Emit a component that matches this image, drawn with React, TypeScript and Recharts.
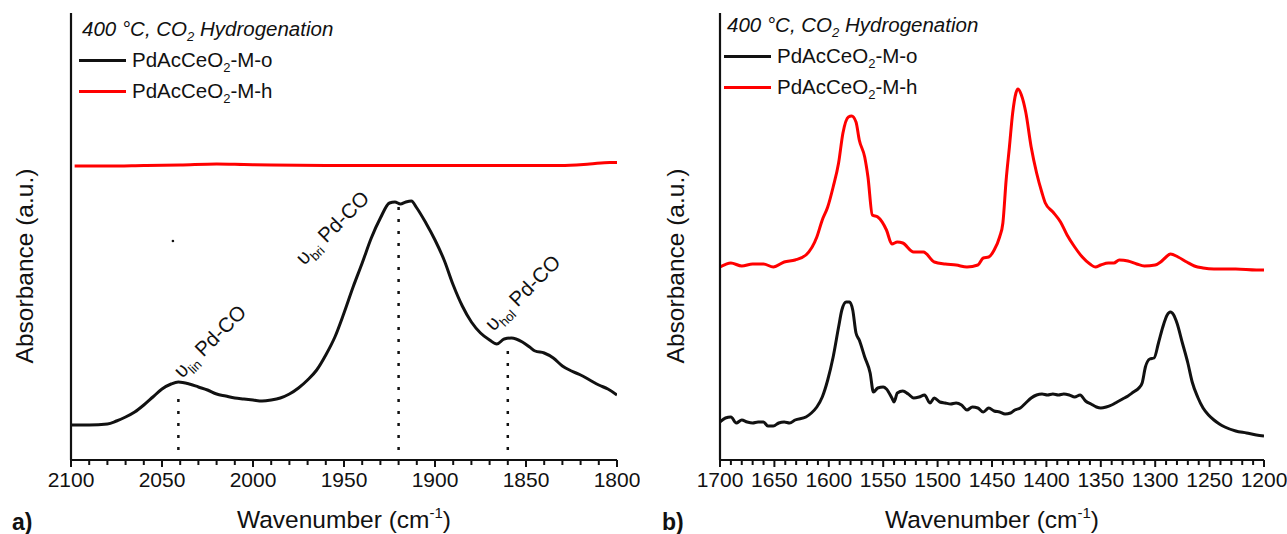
import React from "react";
import {
  LineChart,
  Line,
  XAxis,
  YAxis,
  ReferenceLine,
  ReferenceDot,
  Legend,
} from "recharts";

const FONT = '"Liberation Sans", Arial, Helvetica, sans-serif';
const INK = "#111111";
const RED = "#ff0000";

// a) Pd carbonyl region, 2100-1800 cm-1
const carbonylTicks = [2100, 2050, 2000, 1950, 1900, 1850, 1800];
const carbonylWn = [
  2100, 2090, 2080, 2075, 2070, 2065, 2060, 2055, 2050, 2045, 2041, 2035, 2030,
  2025, 2020, 2015, 2010, 2005, 2000, 1995, 1990, 1985, 1980, 1975, 1970, 1965,
  1960, 1955, 1950, 1945, 1940, 1935, 1930, 1925, 1922, 1919, 1916, 1913, 1910,
  1905, 1900, 1895, 1890, 1885, 1880, 1875, 1870, 1866, 1862, 1858, 1852, 1848,
  1845, 1840, 1835, 1830, 1825, 1820, 1815, 1810, 1805, 1800,
];
const carbonylOxidized = [
  0.035, 0.035, 0.036, 0.039, 0.043, 0.048, 0.055, 0.063, 0.071, 0.076, 0.078,
  0.076, 0.073, 0.07, 0.066, 0.064, 0.062, 0.061, 0.06, 0.059, 0.06, 0.062,
  0.066, 0.072, 0.08, 0.09, 0.105, 0.123, 0.147, 0.173, 0.197, 0.222, 0.242,
  0.257, 0.258, 0.256, 0.258, 0.259, 0.252, 0.237, 0.22, 0.2, 0.175, 0.154,
  0.138, 0.127, 0.12, 0.116, 0.121, 0.122, 0.118, 0.113, 0.109, 0.107, 0.102,
  0.094, 0.089, 0.085, 0.08, 0.075, 0.071, 0.065,
];
const carbonylReducedWn = [
  2098, 2080, 2060, 2040, 2020, 2005, 1990, 1960, 1930, 1900, 1870, 1850, 1831,
  1815, 1804, 1800,
];
const carbonylReduced = [
  0.294, 0.294, 0.2945, 0.295, 0.296, 0.2955, 0.295, 0.2945, 0.2945, 0.2945,
  0.2945, 0.2945, 0.2945, 0.296, 0.2975, 0.2975,
];

// assigned Pd-CO bands: linear, bridged, hollow
const bandModes = ["lin", "bri", "hol"];
const bandWn = [2041, 1920, 1860];
const bandTop = [0.067, 0.253, 0.113];
const bandLabelWn = [2039, 1972, 1868];
const bandLabelAbs = [0.081, 0.194, 0.128];

// b) carbonate / formate region, 1700-1200 cm-1
const carbonateTicks = [
  1700, 1650, 1600, 1550, 1500, 1450, 1400, 1350, 1300, 1250, 1200,
];
const carbonateWn = [
  1700, 1695, 1690, 1685, 1680, 1675, 1670, 1665, 1660, 1656, 1651, 1646, 1641,
  1636, 1631, 1621, 1616, 1611, 1606, 1601, 1596, 1591, 1588, 1584, 1581, 1578,
  1575, 1572, 1567, 1562, 1559, 1555, 1550, 1547, 1542, 1540, 1537, 1532, 1527,
  1522, 1517, 1512, 1507, 1503, 1498, 1493, 1488, 1483, 1478, 1473, 1468, 1463,
  1458, 1453, 1448, 1443, 1438, 1433, 1429, 1424, 1419, 1414, 1409, 1404, 1399,
  1394, 1389, 1384, 1379, 1374, 1369, 1364, 1359, 1354, 1350, 1345, 1340, 1335,
  1330, 1325, 1320, 1315, 1312, 1309, 1305, 1301, 1297, 1293, 1289, 1286, 1283,
  1280, 1275, 1270, 1266, 1261, 1256, 1251, 1246, 1241, 1236, 1226, 1216, 1207,
  1200,
];
const carbonateOxidized = [
  0.038, 0.042, 0.043, 0.037, 0.04, 0.038, 0.037, 0.038, 0.038, 0.034, 0.034,
  0.037, 0.038, 0.037, 0.04, 0.043, 0.047, 0.053, 0.063, 0.08, 0.103, 0.133,
  0.15, 0.158, 0.158, 0.15, 0.127, 0.12, 0.103, 0.087, 0.068, 0.072, 0.073,
  0.071, 0.062, 0.058, 0.067, 0.069, 0.066, 0.062, 0.063, 0.065, 0.057, 0.062,
  0.058, 0.057, 0.056, 0.057, 0.055, 0.05, 0.053, 0.052, 0.048, 0.052, 0.049,
  0.048, 0.046, 0.047, 0.05, 0.052, 0.057, 0.062, 0.065, 0.066, 0.065, 0.066,
  0.065, 0.066, 0.065, 0.063, 0.065, 0.059, 0.056, 0.053, 0.052, 0.053, 0.055,
  0.058, 0.061, 0.064, 0.068, 0.072, 0.077, 0.093, 0.101, 0.102, 0.117, 0.133,
  0.145, 0.148, 0.145, 0.137, 0.117, 0.097, 0.078, 0.063, 0.052, 0.045, 0.04,
  0.036, 0.033, 0.029, 0.027, 0.025, 0.024,
];
const carbonateReducedWn = [
  1700, 1690, 1680, 1670, 1660, 1651, 1641, 1631, 1621, 1611, 1606, 1601, 1596,
  1591, 1587, 1582, 1579, 1575, 1572, 1567, 1564, 1560, 1555, 1547, 1542, 1537,
  1532, 1522, 1513, 1503, 1493, 1483, 1473, 1463, 1458, 1453, 1448, 1443, 1440,
  1437, 1434, 1431, 1428, 1426, 1423, 1419, 1414, 1409, 1404, 1401, 1394, 1387,
  1381, 1374, 1367, 1360, 1355, 1350, 1343, 1338, 1333, 1325, 1317, 1310, 1300,
  1295, 1290, 1286, 1279, 1271, 1264, 1256, 1246, 1226, 1207, 1200,
];
const carbonateReduced = [
  0.193, 0.197, 0.194, 0.196, 0.196, 0.193, 0.198, 0.2, 0.205, 0.223, 0.24,
  0.253, 0.273, 0.297, 0.327, 0.343, 0.344, 0.338, 0.32, 0.303, 0.283, 0.245,
  0.243, 0.23, 0.216, 0.218, 0.217, 0.208, 0.208, 0.198, 0.196, 0.195, 0.193,
  0.195, 0.202, 0.203, 0.21, 0.223, 0.237, 0.28, 0.313, 0.347, 0.367, 0.371,
  0.365, 0.348, 0.313, 0.287, 0.267, 0.257, 0.248, 0.238, 0.225, 0.213, 0.203,
  0.196, 0.193, 0.195, 0.197, 0.197, 0.2, 0.199, 0.196, 0.194, 0.195, 0.198,
  0.203, 0.206, 0.203, 0.198, 0.194, 0.192, 0.191, 0.191, 0.19, 0.19,
];

const ABS_MAX = 0.447;

type Series = {
  key: string;
  suffix: string;
  color: string;
  wn: number[];
  abs: number[];
};

const toPoints = (wn: number[], abs: number[]) =>
  wn.map((w, i) => ({ wn: w, abs: abs[i] }));

// four minor ticks between each pair of labelled ticks
const withMinor = (majors: number[]) =>
  majors.flatMap((m, i) =>
    i === 0
      ? [m]
      : [1, 2, 3, 4, 5].map((k) => majors[i - 1] + ((m - majors[i - 1]) * k) / 5)
  );

const renderTick = (majors: number[]) => (props: any) => {
  const { x, y, payload } = props;
  const major = majors.includes(payload.value);
  return (
    <g>
      <line x1={x} x2={x} y1={y} y2={y + (major ? 7 : 5)} stroke={INK} strokeWidth={2} />
      {major && (
        <text x={x} y={y + 27} textAnchor="middle" fontFamily={FONT} fontSize={21} fill={INK}>
          {payload.value}
        </text>
      )}
    </g>
  );
};

const subStyle: React.CSSProperties = {
  fontSize: 13,
  verticalAlign: "-5px",
  lineHeight: 0,
};

const renderKey = (series: Series[]) => () => (
  <div
    style={{
      position: "relative",
      width: 320,
      height: 100,
      fontFamily: FONT,
      fontSize: 20.5,
      lineHeight: "20px",
      color: INK,
      whiteSpace: "nowrap",
    }}
  >
    <div style={{ position: "absolute", left: 3, top: 0, fontStyle: "italic" }}>
      400 °C, CO<sub style={subStyle}>2</sub> Hydrogenation
    </div>
    {series.map((s, i) => (
      <div
        key={s.key}
        style={{
          position: "absolute",
          left: 0,
          top: 31 * (i + 1),
          display: "flex",
          alignItems: "center",
        }}
      >
        <span
          style={{
            display: "inline-block",
            width: 47,
            height: 3,
            background: s.color,
            marginRight: 6,
          }}
        />
        <span>
          PdAcCeO<sub style={subStyle}>2</sub>
          {s.suffix}
        </span>
      </div>
    ))}
  </div>
);

type PanelProps = {
  offset: number;
  width: number;
  plotLeft: number;
  plotRight: number;
  domain: [number, number];
  majors: number[];
  series: Series[];
  letter: string;
  letterX: number;
  yTitleX: number;
  keyLeft: number;
  keyTop: number;
  bands?: boolean;
};

function Panel({
  offset,
  width,
  plotLeft,
  plotRight,
  domain,
  majors,
  series,
  letter,
  letterX,
  yTitleX,
  keyLeft,
  keyTop,
  bands,
}: PanelProps) {
  const left = plotLeft - offset;
  const right = offset + width - plotRight;
  const cx = left + (plotRight - plotLeft) / 2;

  // axis titles and the panel letter
  const titles = () => (
    <g fontFamily={FONT} fill={INK}>
      <text x={letterX - offset} y={530} fontSize={23} fontWeight="bold">
        {letter}
      </text>
      <text x={cx} y={528} fontSize={24.5} textAnchor="middle">
        Wavenumber (cm
        <tspan fontSize={15} dy={-10}>
          -1
        </tspan>
        <tspan dy={10}>)</tspan>
      </text>
      <text
        transform={`translate(${yTitleX - offset},266) rotate(-90)`}
        textAnchor="middle"
        fontSize={24.5}
      >
        Absorbance (a.u.)
      </text>
    </g>
  );

  return (
    <div style={{ position: "absolute", left: offset, top: 0 }}>
      <LineChart
        width={width}
        height={534}
        margin={{ top: 13, right, bottom: 0, left: left - 1 }}
      >
        <XAxis
          dataKey="wn"
          type="number"
          domain={domain}
          reversed
          allowDataOverflow
          ticks={withMinor(majors)}
          interval={0}
          tick={renderTick(majors)}
          tickLine={false}
          tickSize={0}
          tickMargin={0}
          height={74}
          axisLine={{ stroke: INK, strokeWidth: 2.2 }}
          label={titles}
        />
        <YAxis
          type="number"
          domain={[0, ABS_MAX]}
          width={1}
          tick={false}
          tickLine={false}
          axisLine={{ stroke: INK, strokeWidth: 2.2 }}
        />
        <Legend
          layout="vertical"
          verticalAlign="middle"
          align="center"
          content={renderKey(series)}
          wrapperStyle={{
            left: keyLeft - offset,
            top: keyTop,
            width: "auto",
            height: "auto",
          }}
        />

        {bands &&
          bandWn.map((w, i) => (
            <ReferenceLine
              key={`band-${bandModes[i]}`}
              segment={[
                { x: w, y: 0.01 },
                { x: w, y: bandTop[i] },
              ]}
              stroke={INK}
              strokeWidth={2.5}
              strokeDasharray="3 9"
            />
          ))}
        {bands &&
          bandModes.map((mode, i) => (
            <ReferenceDot
              key={`label-${mode}`}
              x={bandLabelWn[i]}
              y={bandLabelAbs[i]}
              r={0}
              shape={(p: any) => (
                <text
                  x={p.cx}
                  y={p.cy}
                  transform={`rotate(-45 ${p.cx} ${p.cy})`}
                  fontFamily={FONT}
                  fontSize={20.5}
                  fill={INK}
                >
                  υ
                  <tspan fontSize={13} dy={5}>
                    {mode}
                  </tspan>
                  <tspan dy={-5}> Pd-CO</tspan>
                </text>
              )}
            />
          ))}
        {bands && (
          <ReferenceDot x={2044} y={0.219} r={1.3} fill={INK} stroke="none" />
        )}

        {series.map((s) => (
          <Line
            key={s.key}
            data={toPoints(s.wn, s.abs)}
            dataKey="abs"
            type="monotone"
            stroke={s.color}
            strokeWidth={3}
            dot={false}
            activeDot={false}
            isAnimationActive={false}
          />
        ))}
      </LineChart>
    </div>
  );
}

const carbonylSeries: Series[] = [
  { key: "o", suffix: "-M-o", color: INK, wn: carbonylWn, abs: carbonylOxidized },
  { key: "h", suffix: "-M-h", color: RED, wn: carbonylReducedWn, abs: carbonylReduced },
];

const carbonateSeries: Series[] = [
  { key: "o", suffix: "-M-o", color: INK, wn: carbonateWn, abs: carbonateOxidized },
  { key: "h", suffix: "-M-h", color: RED, wn: carbonateReducedWn, abs: carbonateReduced },
];

export default function App() {
  return (
    <div
      style={{
        position: "absolute",
        left: 0,
        top: 0,
        width: 1287,
        height: 534,
        background: "#ffffff",
        overflow: "hidden",
      }}
    >
      <Panel
        offset={0}
        width={640}
        plotLeft={71}
        plotRight={617}
        domain={[1800, 2100]}
        majors={carbonylTicks}
        series={carbonylSeries}
        letter="a)"
        letterX={12}
        yTitleX={33}
        keyLeft={79}
        keyTop={19}
        bands
      />
      <Panel
        offset={640}
        width={647}
        plotLeft={720}
        plotRight={1264}
        domain={[1200, 1700]}
        majors={carbonateTicks}
        series={carbonateSeries}
        letter="b)"
        letterX={662}
        yTitleX={684}
        keyLeft={724}
        keyTop={15}
      />
    </div>
  );
}
